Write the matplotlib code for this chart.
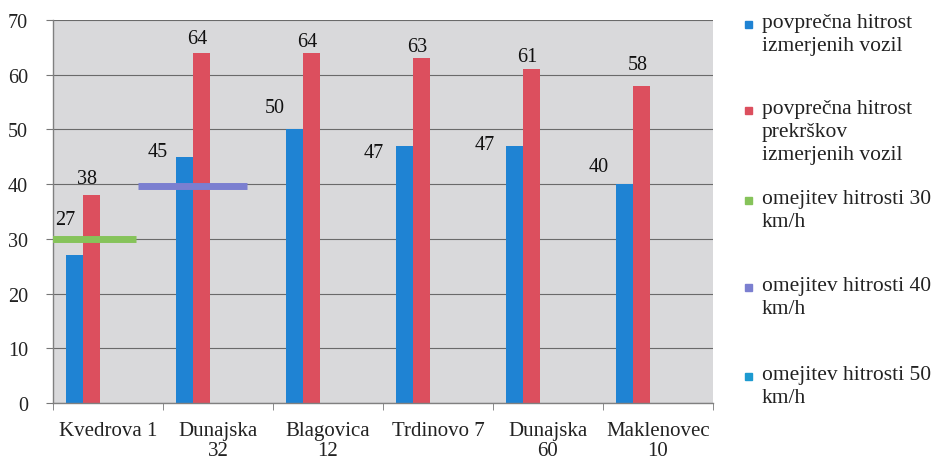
import matplotlib
matplotlib.use("Agg")
import matplotlib.pyplot as plt
import numpy as np

# data
categories = ["Kvedrova 1", "Dunajska\n32", "Blagovica\n12", "Trdinovo 7", "Dunajska\n60", "Maklenovec\n10"]
avg_speed = [27, 45, 50, 47, 47, 40]
violation_speed = [38, 64, 64, 63, 61, 58]
limit_30 = 30
limit_40 = 40

legend_labels = ["povprečna hitrost\nizmerjenih vozil",
                 "povprečna hitrost\nprekrškov\nizmerjenih vozil",
                 "omejitev hitrosti 30\nkm/h",
                 "omejitev hitrosti 40\nkm/h",
                 "omejitev hitrosti 50\nkm/h"]

c_blue = "#1f83d3"
c_red = "#dc4f5e"
c_green = "#86c35a"
c_purple = "#7b7fd0"
c_cyan = "#1d9ad0"
legend_colors = [c_blue, c_red, c_green, c_purple, c_cyan]

# label offsets (pixels) - the original has hand placed labels
blue_offsets = [(-9, 36), (-27, 5), (-20, 22), (-31, -7), (-30, 1), (-26, 18)]
red_offsets = [(-4, 17), (-4, 14), (-4, 11), (-4, 12), (-4, 13), (-4, 21)]

plt.rcParams['font.family'] = ['Liberation Serif', 'DejaVu Serif']

fig = plt.figure(figsize=(9.39, 4.64), dpi=100)
fig.patch.set_facecolor("white")
W, H = 939, 464
ax = fig.add_axes([53 / W, 1 - 404 / H, 660 / W, 383 / H])
ax.set_facecolor("#d9d9db")

x = np.arange(len(categories))
bw = 0.155
xb = x - 0.305
xr = x - 0.15
ax.bar(xb, avg_speed, width=bw, color=c_blue, zorder=2)
ax.bar(xr, violation_speed, width=bw, color=c_red, zorder=2)

# speed limit markers
ax.hlines(limit_30, x[0] - 0.52, x[0] + 0.25, colors=c_green, linewidth=5, zorder=3)
ax.hlines(limit_40 - 0.4, x[0] + 0.27, x[1] + 0.26, colors=c_purple, linewidth=5, zorder=3)

for i in range(len(categories)):
    ax.annotate(str(avg_speed[i]), (xb[i], avg_speed[i]), xytext=blue_offsets[i],
                textcoords="offset pixels", ha="center", va="center", fontsize=14.5, color="#111111")
    ax.annotate(str(violation_speed[i]), (xr[i], violation_speed[i]), xytext=red_offsets[i],
                textcoords="offset pixels", ha="center", va="center", fontsize=14.5, color="#111111")

ax.set_xlim(-0.5, len(categories) - 0.5)
ax.set_ylim(0, 70)
ax.set_yticks(np.arange(0, 71, 10))
ax.yaxis.grid(True, color="#6a6a6a", linewidth=0.8, zorder=1)
ax.set_axisbelow(True)

ax.set_xticks(x)
ax.set_xticklabels(categories, fontsize=15, color="#222222", linespacing=1.1)
ax.set_xticks(np.arange(-0.5, len(categories), 1), minor=True)
ax.tick_params(axis="x", which="major", length=0, pad=13)
ax.tick_params(axis="x", which="minor", length=5, color="#777777", direction="out")
ax.tick_params(axis="y", length=5, color="#777777", pad=13, labelsize=14.5, labelcolor="#222222")

for s in ["top", "right"]:
    ax.spines[s].set_visible(False)
for s in ["left", "bottom"]:
    ax.spines[s].set_color("#808080")
    ax.spines[s].set_linewidth(1.0)

# manual legend to match the wrapped layout
leg_y = [26, 112, 202, 289, 378]
for lab, col, yy in zip(legend_labels, legend_colors, leg_y):
    fig.patches.append(plt.Rectangle((745 / W, 1 - (yy + 3) / H), 7 / W, 7 / H,
                                     transform=fig.transFigure, color=col, figure=fig))
    fig.text(762 / W, 1 - (yy - 12) / H, lab, fontsize=15.5, color="#222222",
             va="top", ha="left", linespacing=1.3)

fig.savefig("out.png", dpi=100, facecolor=fig.get_facecolor())
